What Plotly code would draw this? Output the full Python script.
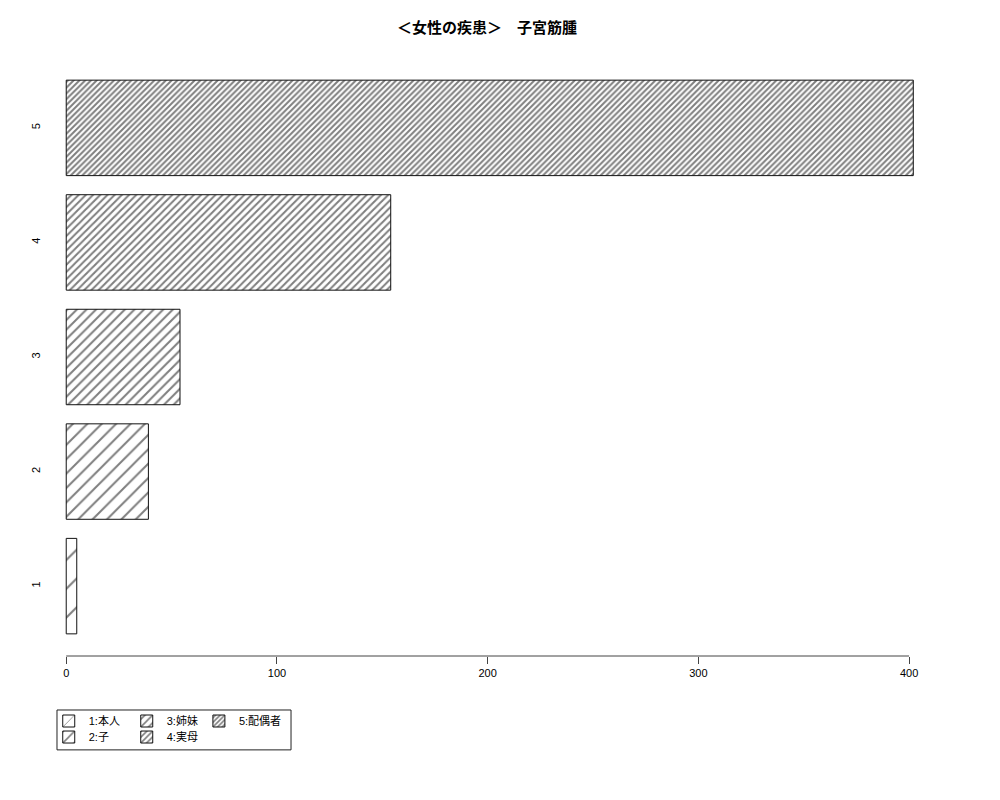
import plotly.graph_objects as go

# data
categories = ["1", "2", "3", "4", "5"]
counts = [5, 39, 54, 154, 402]
legend_labels = ["1:本人", "2:子", "3:姉妹", "4:実母", "5:配偶者"]
densities = [5, 10, 15, 20, 25]   # hatch lines per inch
tick_vals = [0, 100, 200, 300, 400]
title_text = "＜女性の疾患＞　子宮筋腫"

font_jp = "Liberation Sans, Noto Sans CJK JP"

# R fills the legend column by column: rows are 1,3,5 / 2,4
legend_slot = ["legend", "legend2", "legend", "legend2", "legend3"]

fig = go.Figure()

# one trace per bar so each gets its own hatch density and legend entry
for i in range(len(categories)):
    size = 72 * 1.414 / densities[i]
    fig.add_trace(go.Bar(
        x=[counts[i]],
        y=[categories[i]],
        orientation="h",
        name=legend_labels[i],
        width=1 / 1.2,
        marker=dict(
            color="white",
            line=dict(color="#111111", width=1),
            pattern=dict(shape="/", size=size, solidity=2.0 / size,
                         fgcolor="black", bgcolor="white", fillmode="overlay"),
        ),
        legend=legend_slot[i],
        showlegend=True,
    ))

legend_common = dict(
    orientation="h", xanchor="left", yanchor="middle",
    font=dict(family=font_jp, size=11, color="black"),
    bgcolor="rgba(0,0,0,0)", borderwidth=0,
    entrywidthmode="pixels",
    traceorder="normal", itemclick=False,
)

fig.update_layout(
    width=1000, height=800,
    margin=dict(l=42, r=61, t=50, b=152),
    plot_bgcolor="white", paper_bgcolor="white",
    barmode="overlay",
    title=dict(text="<b>" + title_text + "</b>", x=0.479, xanchor="center",
               y=0.975, yanchor="middle",
               font=dict(family=font_jp, size=15, color="black")),
    xaxis=dict(range=[-7.7, 418], tickvals=tick_vals, showgrid=False,
               zeroline=False, showline=False, ticks="outside", ticklen=7,
               tickcolor="#444444", tickfont=dict(family=font_jp, size=11, color="black")),
    yaxis=dict(type="category", categoryorder="array", categoryarray=categories,
               range=[-0.61, 4.61], showgrid=False, zeroline=False, showline=False,
               ticks="", tickangle=-90, ticklabelstandoff=7,
               tickfont=dict(family=font_jp, size=11, color="black")),
    legend=dict(x=-0.0014, y=-0.1087, entrywidth=33, **legend_common),
    legend2=dict(x=-0.0014, y=-0.1355, entrywidth=33, **legend_common),
    legend3=dict(x=0.166, y=-0.1087, entrywidth=60, **legend_common),
    showlegend=True,
)

# R draws the axis line only between the first and last tick
fig.add_shape(type="line", xref="x", yref="paper", x0=tick_vals[0], x1=tick_vals[-1],
              y0=0, y1=0, line=dict(color="#444444", width=1))

# legend box
fig.add_shape(type="rect", xref="paper", yref="paper", x0=0.0078, x1=0.2687,
              y0=-0.157, y1=-0.0903, line=dict(color="#222222", width=1))

fig.write_html("out.html")
